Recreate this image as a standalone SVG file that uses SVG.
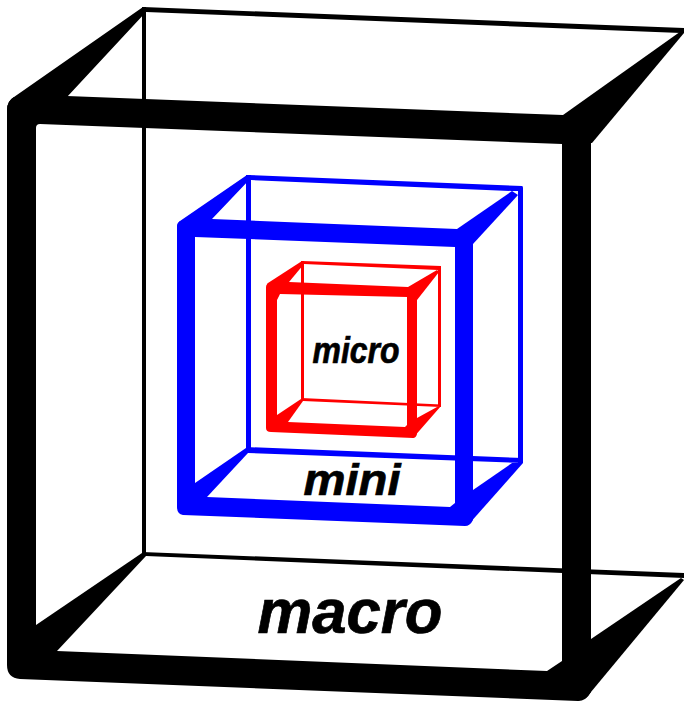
<svg xmlns="http://www.w3.org/2000/svg" width="684" height="702" viewBox="0 0 684 702">
  <style>
    .label { font-family: "Liberation Sans", Arial, sans-serif; font-weight: bold; font-style: italic; fill: #000; stroke: #000; stroke-width: 0.7; }
    #macro path { fill: #000; fill-rule: evenodd; }
    #mini path { fill: #0000ff; fill-rule: evenodd; }
    #micro path { fill: #ff0000; fill-rule: evenodd; }
  </style>
  <rect width="684" height="702" fill="#fff"/>
  <g id="macro">
    <path d="M143,7 L684,28 L684,33 L681,33 L146,12 Z"/>
    <path d="M142,7 H146 V556 H142 Z"/>
    <path d="M142,552 L684,573 L684,578 L146,556 Z"/>
    <path d="M143,7 L146,12 L67,97 L36,124 L7,115 L7,110 Q7,101 14,97 Z"/>
    <path d="M563,115 L684,29 L684,33 L592,143 L562,144 Z"/>
    <path d="M36,625 L142,553 L146,556 L57,651 L36,651 Z"/>
    <path d="M591,639 L681,578 L684,580 L586,698 L578,701 L560,690 Z"/>
    <path d="M7,110 Q7,101 14,97 L67,96 L563,115 L591,130 L591,692 Q586,701 578,701 L20,679 Q7,678 7,665 Z M36,128 Q36,124 40,124 L562,144 L562,661 L547,671 L57,651 L36,625 Z"/>
    <text class="label" x="257.500" y="633" font-size="63" textLength="185" lengthAdjust="spacingAndGlyphs">macro</text>
  </g>
  <g id="mini">
    <path d="M247,175 L522,186 Q523,186 523,188 L523,463 L518,463 L518,191 L512,191 L251,180 Z"/>
    <path d="M246,175 H251 V453 H246 Z"/>
    <path d="M246,447 L523,458 L523,463 L248,453 Z"/>
    <path d="M247,175 L251,178 L212,219 L195,237 L177,230 L177,227 Q177,223 180,221 Z"/>
    <path d="M457,229 L512,191 L518,195 L473,244 L455,247 Z"/>
    <path d="M195,483 L246,448 L248,453 L207,497 L195,497 Z"/>
    <path d="M473,490 L512,463 L523,463 L469,524 L460,520 Z"/>
    <path d="M177,227 Q177,223 180,221 L212,219 L457,229 L473,235 L473,520 Q470,526 465,526 L183,515 Q177,514 177,507 Z M195,237 L455,247 L455,503 L450,507 L207,497 L195,483 Z"/>
    <text class="label" x="303.500" y="495" font-size="45" textLength="97" lengthAdjust="spacingAndGlyphs">mini</text>
  </g>
  <g id="micro">
    <path d="M302,261 L441,266 L441,406 L438,406 L438,270 L304,264 Z"/>
    <path d="M301,261 H304 V401 H301 Z"/>
    <path d="M301,398 L441,404.5 L441,407 L303,401 Z"/>
    <path d="M302,261 L304,264 L289,282 L277,296 L266,292 L266,288 Q266,285 268,283 Z"/>
    <path d="M408,287 L437,270 L439,272 L417,300 L407,297 Z"/>
    <path d="M277,415 L301,399 L303,401 L288,422 L277,422 Z"/>
    <path d="M417,418 L437,407 L441,406 L413,438 L410,430 Z"/>
    <path d="M266,288 Q266,285 268,283 L289,282 L408,287 L417,292 L417,434 Q416,438 413,438 L271,432 Q266,432 266,428 Z M277,300 L280,294 L407,297 L407,425 L405,427 L288,422 L277,415 Z"/>
    <text class="label" x="312.500" y="362.500" font-size="37" textLength="87" lengthAdjust="spacingAndGlyphs">micro</text>
  </g>
</svg>
